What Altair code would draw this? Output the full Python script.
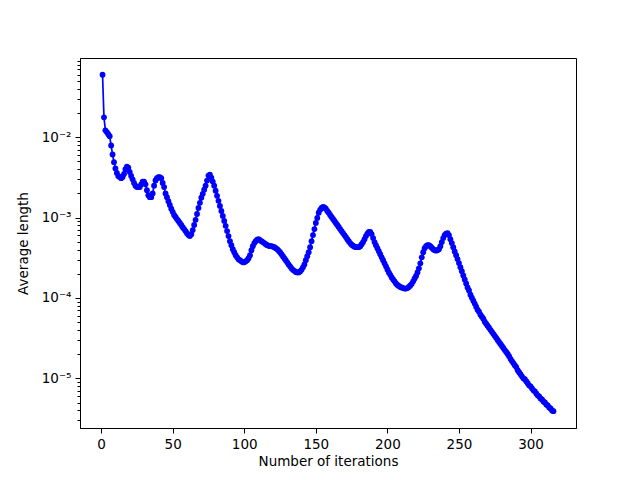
import altair as alt
import pandas as pd

# iteration numbers
iterations = list(range(1, 317))

# average length values, in blocks of iterations
vals_001_050 = [
    0.060, 0.0177, 0.0122, 0.0116, 0.0109, 0.0103, 0.0079, 0.0061, 0.0049, 0.0041,
    0.0036, 0.0033, 0.0032, 0.0031, 0.0032, 0.0035, 0.0040, 0.0043, 0.0042, 0.0037,
    0.0033, 0.0030, 0.0027, 0.0025, 0.0024, 0.0024, 0.0024, 0.0026, 0.0028, 0.0028,
    0.0026, 0.0022, 0.0019, 0.0018, 0.0018, 0.0020, 0.0025, 0.0029, 0.0031, 0.0032,
    0.0032, 0.0031, 0.0027, 0.0024, 0.0020, 0.0018, 0.0016, 0.00144, 0.00129, 0.00118,
]
vals_051_100 = [
    0.00108, 0.00102, 0.00096, 0.00091, 0.00086, 0.00081, 0.00076, 0.00072, 0.00068, 0.00064,
    0.00061, 0.00059, 0.00062, 0.00070, 0.00081, 0.00094, 0.00111, 0.00132, 0.00153, 0.00177,
    0.00198, 0.00223, 0.00250, 0.00289, 0.00334, 0.00343, 0.00315, 0.00281, 0.00250, 0.00216,
    0.00187, 0.00162, 0.00140, 0.00121, 0.00105, 0.00091, 0.00079, 0.00068, 0.00059, 0.00051,
    0.000454, 0.000405, 0.000371, 0.000340, 0.000321, 0.000303, 0.000295, 0.000286, 0.000278, 0.000278,
]
vals_101_150 = [
    0.000286, 0.000295, 0.000312, 0.000340, 0.000394, 0.000442, 0.000482, 0.000510, 0.000533, 0.000540,
    0.000525, 0.000510, 0.000496, 0.000482, 0.000468, 0.000454, 0.000448, 0.000442, 0.000442, 0.000435,
    0.000429, 0.000417, 0.000405, 0.000388, 0.000371, 0.000351, 0.000331, 0.000312, 0.000295, 0.000278,
    0.000262, 0.000248, 0.000234, 0.000224, 0.000218, 0.000211, 0.000208, 0.000208, 0.000214, 0.000224,
    0.000241, 0.000262, 0.000295, 0.000331, 0.000371, 0.000429, 0.000510, 0.000607, 0.000721, 0.000858,
]
vals_151_200 = [
    0.000991, 0.00115, 0.00125, 0.00132, 0.00136, 0.00134, 0.00129, 0.00121, 0.00115, 0.00108,
    0.00102, 0.000964, 0.000910, 0.000858, 0.000810, 0.000764, 0.000721, 0.000681, 0.000643, 0.000607,
    0.000573, 0.000540, 0.000510, 0.000482, 0.000461, 0.000448, 0.000435, 0.000429, 0.000429, 0.000429,
    0.000442, 0.000468, 0.000496, 0.000540, 0.000589, 0.000633, 0.000662, 0.000662, 0.000625, 0.000556,
    0.000496, 0.000454, 0.000417, 0.000382, 0.000351, 0.000321, 0.000295, 0.000270, 0.000248, 0.000227,
]
vals_201_250 = [
    0.000208, 0.000194, 0.000180, 0.000170, 0.000161, 0.000152, 0.000145, 0.000141, 0.000137, 0.000135,
    0.000133, 0.000131, 0.000131, 0.000133, 0.000137, 0.000143, 0.000150, 0.000161, 0.000175, 0.000188,
    0.000208, 0.000234, 0.000270, 0.000321, 0.000371, 0.000417, 0.000442, 0.000454, 0.000454, 0.000442,
    0.000423, 0.000405, 0.000394, 0.000388, 0.000394, 0.000405, 0.000442, 0.000496, 0.000556, 0.000607,
    0.000633, 0.000643, 0.000607, 0.000540, 0.000482, 0.000429, 0.000380, 0.000340, 0.000305, 0.000272,
]
vals_251_300 = [
    0.000242, 0.000215, 0.000191, 0.000170, 0.000152, 0.000135, 0.000124, 0.000110, 0.000101, 9.27e-5,
    8.51e-5, 7.80e-5, 7.15e-5, 6.75e-5, 6.19e-5, 5.85e-5, 5.52e-5, 5.06e-5, 4.78e-5, 4.51e-5,
    4.26e-5, 4.02e-5, 3.79e-5, 3.58e-5, 3.38e-5, 3.19e-5, 3.01e-5, 2.84e-5, 2.68e-5, 2.53e-5,
    2.39e-5, 2.25e-5, 2.13e-5, 2.01e-5, 1.89e-5, 1.74e-5, 1.64e-5, 1.55e-5, 1.46e-5, 1.38e-5,
    1.26e-5, 1.19e-5, 1.125e-5, 1.06e-5, 1.00e-5, 9.74e-6, 9.20e-6, 8.68e-6, 8.19e-6, 7.96e-6,
]
vals_301_316 = [
    7.51e-6, 7.09e-6, 6.89e-6, 6.50e-6, 6.14e-6, 5.96e-6, 5.62e-6, 5.47e-6, 5.16e-6, 5.01e-6,
    4.73e-6, 4.60e-6, 4.34e-6, 4.22e-6, 3.98e-6, 3.90e-6,
]

values = (vals_001_050 + vals_051_100 + vals_101_150 + vals_151_200
          + vals_201_250 + vals_251_300 + vals_301_316)

x_ticks = [0, 50, 100, 150, 200, 250, 300]
y_major = [1e-5, 1e-4, 1e-3, 1e-2]
y_minor = [3e-6, 4e-6, 5e-6, 6e-6, 7e-6, 8e-6, 9e-6,
           2e-5, 3e-5, 4e-5, 5e-5, 6e-5, 7e-5, 8e-5, 9e-5,
           2e-4, 3e-4, 4e-4, 5e-4, 6e-4, 7e-4, 8e-4, 9e-4,
           2e-3, 3e-3, 4e-3, 5e-3, 6e-3, 7e-3, 8e-3, 9e-3,
           2e-2, 3e-2, 4e-2, 5e-2, 6e-2, 7e-2, 8e-2, 9e-2]

df = pd.DataFrame({"iteration": iterations, "length": values})

is_major = "abs(log(datum.value)/LN10 - round(log(datum.value)/LN10)) < 1e-6"
label_expr = (is_major + " ? '10⁻' + ['⁰','¹','²','³','⁴','⁵','⁶','⁷'][-round(log(datum.value)/LN10)] : ''")

chart = alt.Chart(df).mark_line(
    color="#0000ff", strokeWidth=1.7,
    point=alt.OverlayMarkDef(color="#0000ff", filled=True, size=34, opacity=1),
).encode(
    x=alt.X("iteration:Q",
            scale=alt.Scale(domain=[-14.75, 331.75], nice=False, zero=False),
            axis=alt.Axis(title="Number of iterations", values=x_ticks, grid=False,
                          labelFlush=False, titlePadding=4)),
    y=alt.Y("length:Q",
            scale=alt.Scale(type="log", domain=[2.41e-6, 0.097], nice=False),
            axis=alt.Axis(title="Average length", values=y_major + y_minor, grid=False,
                          labelExpr=label_expr, labelOverlap=False, labelFlush=False,
                          tickSize={"condition": {"test": is_major, "value": 5}, "value": 3},
                          titlePadding=11)),
).properties(
    width=496, height=370,
    autosize="none",
    padding={"left": 72, "top": 50, "right": 56, "bottom": 40},
).configure(
    font="DejaVu Sans",
).configure_axis(
    labelFont="DejaVu Sans", titleFont="DejaVu Sans",
    labelFontSize=13.5, titleFontSize=13.5,
    labelColor="black", titleColor="black",
    titleFontWeight="normal",
    domainColor="black", tickColor="black",
    domainWidth=1, tickWidth=1,
    labelPadding=4,
).configure_view(
    stroke="black", strokeWidth=1,
)

chart.save("out.html", embed_options={"renderer": "svg", "actions": False})
